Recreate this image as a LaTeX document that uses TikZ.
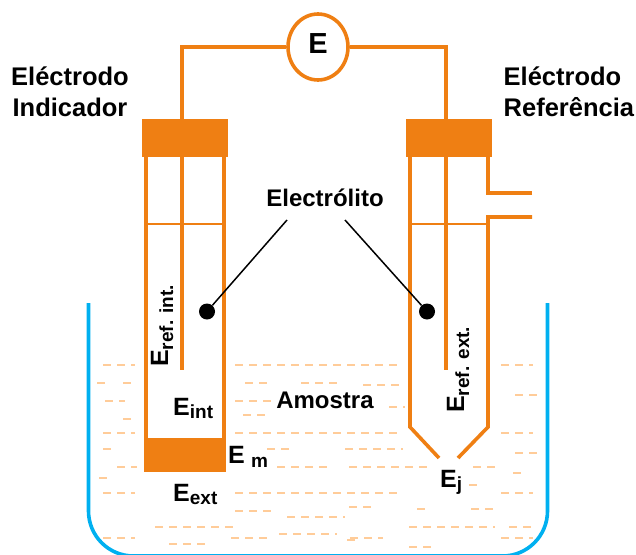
\documentclass[tikz,border=0pt]{standalone}
\usepackage{fontspec}
\setmainfont{Liberation Sans}
\usetikzlibrary{shapes.geometric}
\definecolor{electrode}{HTML}{EF7F13}
\definecolor{vessel}{HTML}{00B0F0}
\definecolor{liquid}{HTML}{FFCC99}
\newcommand{\potential}[2][-3.5pt]{E\raisebox{#1}{\fontsize{19}{19}\selectfont\bfseries #2}}

\begin{document}
\begin{tikzpicture}[x=1pt, y=-1pt,
    wall/.style={draw=electrode, line width=3.6pt},
    level/.style={draw=electrode, line width=1.8pt},
    head/.style={fill=electrode, minimum width=86pt, minimum height=38pt, inner sep=0pt},
    meter/.style={ellipse, draw=electrode, fill=white, line width=3.6pt, minimum width=60pt, minimum height=66pt, inner sep=0pt},
    title/.style={font=\fontsize{24}{31}\selectfont\bfseries, inner sep=0pt},
    bigtitle/.style={font=\fontsize{25.5}{31}\selectfont\bfseries, inner sep=0pt},
    symbol/.style={font=\fontsize{25}{25}\selectfont\bfseries, anchor=base west, inner sep=0pt},
    spot/.style={circle, fill=black, minimum size=16pt, inner sep=0pt},
    leader/.style={draw=black, line width=1.5pt},
    ripple/.style={draw=liquid, line width=2pt, dash pattern=on 8pt off 6pt},
]
  \useasboundingbox (0,0) rectangle (636,554);

  % Sample liquid, row by row
  \foreach \y/\xa/\xb in {
    365/103/135, 365/235/397, 365/501/533,
    383/97/105, 383/123/131, 383/245/267, 383/301/337, 385/363/399, 395/515/537,
    401/105/125, 401/235/271, 407/389/405, 415/243/265, 419/123/131,
    433/103/135, 433/235/397, 433/501/533,
    449/103/111, 449/267/289, 449/345/403, 453/515/537,
    467/117/137, 467/277/327, 467/349/427, 467/473/495, 473/513/521, 478/99/107, 485/469/477,
    493/103/135, 493/235/397, 493/501/533,
    507/349/371, 509/417/425, 509/471/493, 511/235/271, 517/287/345,
    527/155/233, 527/409/495, 527/509/531, 534/279/337,
    538/103/135, 538/231/267, 538/350/383, 540/347/355, 538/501/533,
    544/169/205, 547/409/431}
    \draw[ripple] (\xa,\y) -- (\xb,\y);

  % Beaker
  \draw[vessel, line width=3.6pt, rounded corners=45pt] (88.5,303) -- (88.5,556) -- (547.5,556) -- (547.5,303);

  \node[head] (headInd) at (185,138) {};
  \node[head] (headRef) at (449,138) {};
  \node[meter] (meter) at (318,47) {};
  \node[fill=electrode, minimum width=82pt, minimum height=34pt, inner sep=0pt] (membrane) at (185,455) {};

  \coordinate (wireInd) at (182,119);
  \coordinate (wireRef) at (446,119);

  % Wires to the meter
  \draw[wall] (meter.west) -- (wireInd |- meter.west) -- (wireInd);
  \draw[wall] (meter.east) -- (wireRef |- meter.east) -- (wireRef);

  % Indicator electrode
  \draw[wall] (146,157) -- (146,438);
  \draw[wall] (224,157) -- (224,438);
  \draw[wall] (182,157) -- (182,370);
  \draw[level] (146,224) -- (224,224);

  % Reference electrode
  \draw[wall] (446,157) -- (446,370);
  \draw[wall, line join=miter] (410,157) -- (410,427) -- (439,458);
  \draw[wall, line join=miter] (532,193) -- (488,193) -- (488,157);
  \draw[wall, line join=miter] (532,217) -- (488,217) -- (488,427) -- (458,458);
  \draw[level] (410,224) -- (488,224);

  % Labels
  \node[bigtitle, align=center] (ind) at (70,92) {Eléctrodo\\Indicador};
  \node[bigtitle, align=left, anchor=west] (ref) at (503.5,92) {Eléctrodo\\Referência};
  \node[font=\fontsize{29}{29}\selectfont\bfseries, inner sep=0pt] (meterE) at (318,44) {E};
  \node[title] (electrolyte) at (325,198) {Electrólito};
  \node[title] (sample) at (325,400) {Amostra};
  \node[spot] (spotInd) at (207,311.5) {};
  \node[spot] (spotRef) at (427,311.5) {};
  \draw[leader] (287,220) -- (spotInd);
  \draw[leader] (345,220) -- (spotRef);

  \node[symbol, rotate=90] (eRefInt) at (168,367) {\potential[-5pt]{ref. int.}};
  \node[symbol, rotate=90] (eRefExt) at (464,413) {\potential[-5pt]{ref. ext.}};
  \node[symbol] (eInt) at (173,415) {\potential{int}};
  \node[symbol] (eM) at (228,463) {\potential[-4pt]{\,\,m}};
  \node[symbol] (eExt) at (173,501) {\potential{ext}};
  \node[symbol] (eJ) at (440,487) {\potential[-3pt]{j}};
\end{tikzpicture}
\end{document}
